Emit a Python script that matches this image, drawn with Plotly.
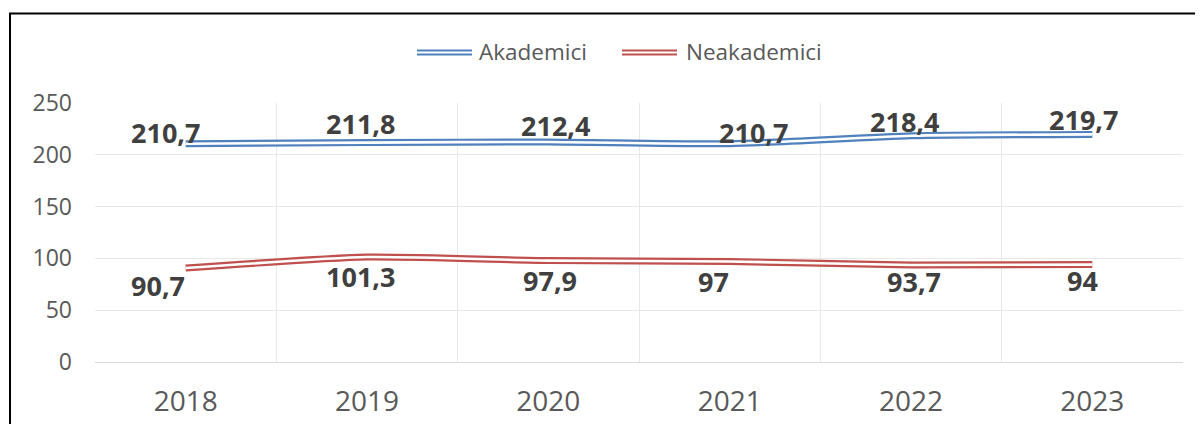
import plotly.graph_objects as go

years = ["2018", "2019", "2020", "2021", "2022", "2023"]
akademici = [210.7, 211.8, 212.4, 210.7, 218.4, 219.7]
neakademici = [90.7, 101.3, 97.9, 97.0, 93.7, 94.0]
label_ak = ["210,7", "211,8", "212,4", "210,7", "218,4", "219,7"]
label_ne = ["90,7", "101,3", "97,9", "97", "93,7", "94"]
series_names = ["Akademici", "Neakademici"]

# label offsets in pixels (x, y)
off_ak = [(-20, 11), (-7, 19), (7, 16), (24, 11), (-7, 14), (-9, 15)]
off_ne = [(-28, -17), (-7, -19), (2, -20), (-16, -20), (3, -17), (-10, -16)]

BLUE = "#4F81BD"
RED = "#C0504D"
FONT = "Open Sans"

# page body has an 8px margin; work in window pixels and convert
OFF = 8
W, H = 1203 - OFF, 424 - OFF
PL, PR, PT, PB = 95, 1183, 103, 362  # plot area in window pixels
L, T = PL - OFF, PT - OFF
R = W - (PR - OFF)
B = H - (PB - OFF)
PW = PR - PL
PH = PB - PT

xs = list(range(len(years)))


def px(x):
    return (x - PL) / PW


def py(y):
    return (PB - y) / PH


fig = go.Figure()
for vals, col in [(neakademici, RED), (akademici, BLUE)]:
    fig.add_trace(go.Scatter(x=xs, y=vals, mode="lines",
                             line=dict(color=col, width=7, shape="spline", smoothing=0.6),
                             showlegend=False, hoverinfo="skip"))
    fig.add_trace(go.Scatter(x=xs, y=vals, mode="lines",
                             line=dict(color="white", width=2.6, shape="spline", smoothing=0.6),
                             showlegend=False, hoverinfo="skip"))

annotations = []
for vals, labels, offs in [(akademici, label_ak, off_ak), (neakademici, label_ne, off_ne)]:
    for xi, v, t, (dx, dy) in zip(xs, vals, labels, offs):
        annotations.append(dict(x=xi, y=v, text="<b>" + t + "</b>", showarrow=False,
                                xshift=dx, yshift=dy,
                                font=dict(family=FONT, size=27, color="#404040")))

# manual legend
shapes = []
legend_items = [(series_names[0], BLUE, 417, 472, 477), (series_names[1], RED, 622, 677, 684)]
for name, col, x0, x1, tx in legend_items:
    shapes.append(dict(type="line", xref="paper", yref="paper", x0=px(x0), x1=px(x1),
                       y0=py(52.5), y1=py(52.5), line=dict(color=col, width=6)))
    shapes.append(dict(type="line", xref="paper", yref="paper", x0=px(x0), x1=px(x1),
                       y0=py(52.5), y1=py(52.5), line=dict(color="white", width=2)))
    annotations.append(dict(x=px(tx), y=py(52), xref="paper", yref="paper", text=name,
                            showarrow=False, xanchor="left", yanchor="middle",
                            font=dict(family=FONT, size=22.5, color="#595959")))

# outer border
shapes.append(dict(type="rect", xref="paper", yref="paper", x0=px(10), x1=px(1240),
                   y0=py(450), y1=py(13.5), line=dict(color="black", width=2),
                   fillcolor="rgba(0,0,0,0)", layer="above"))

fig.update_layout(
    width=W, height=H,
    margin=dict(l=L, r=R, t=T, b=B, autoexpand=False),
    paper_bgcolor="white", plot_bgcolor="white",
    showlegend=False,
    annotations=annotations, shapes=shapes,
    font=dict(family=FONT, color="#595959"),
)
fig.update_xaxes(range=[-0.5, len(years) - 0.5], autorange=False, tickmode="array",
                 tickvals=xs, ticktext=years, showgrid=False,
                 minor=dict(tickmode="linear", tick0=-0.5, dtick=1, showgrid=True,
                            gridcolor="#e8e8e8", gridwidth=1, ticks=""),
                 showline=True, linecolor="#d9d9d9", linewidth=1, ticks="", zeroline=False,
                 tickfont=dict(family=FONT, size=28, color="#595959"), ticklabelstandoff=14)
fig.update_yaxes(range=[0, 250], autorange=False, dtick=50, showgrid=True, gridcolor="#e8e8e8",
                 gridwidth=1, zeroline=False, ticks="",
                 tickfont=dict(family=FONT, size=23, color="#595959"),
                 ticklabelstandoff=22)

fig.write_html("out.html")
